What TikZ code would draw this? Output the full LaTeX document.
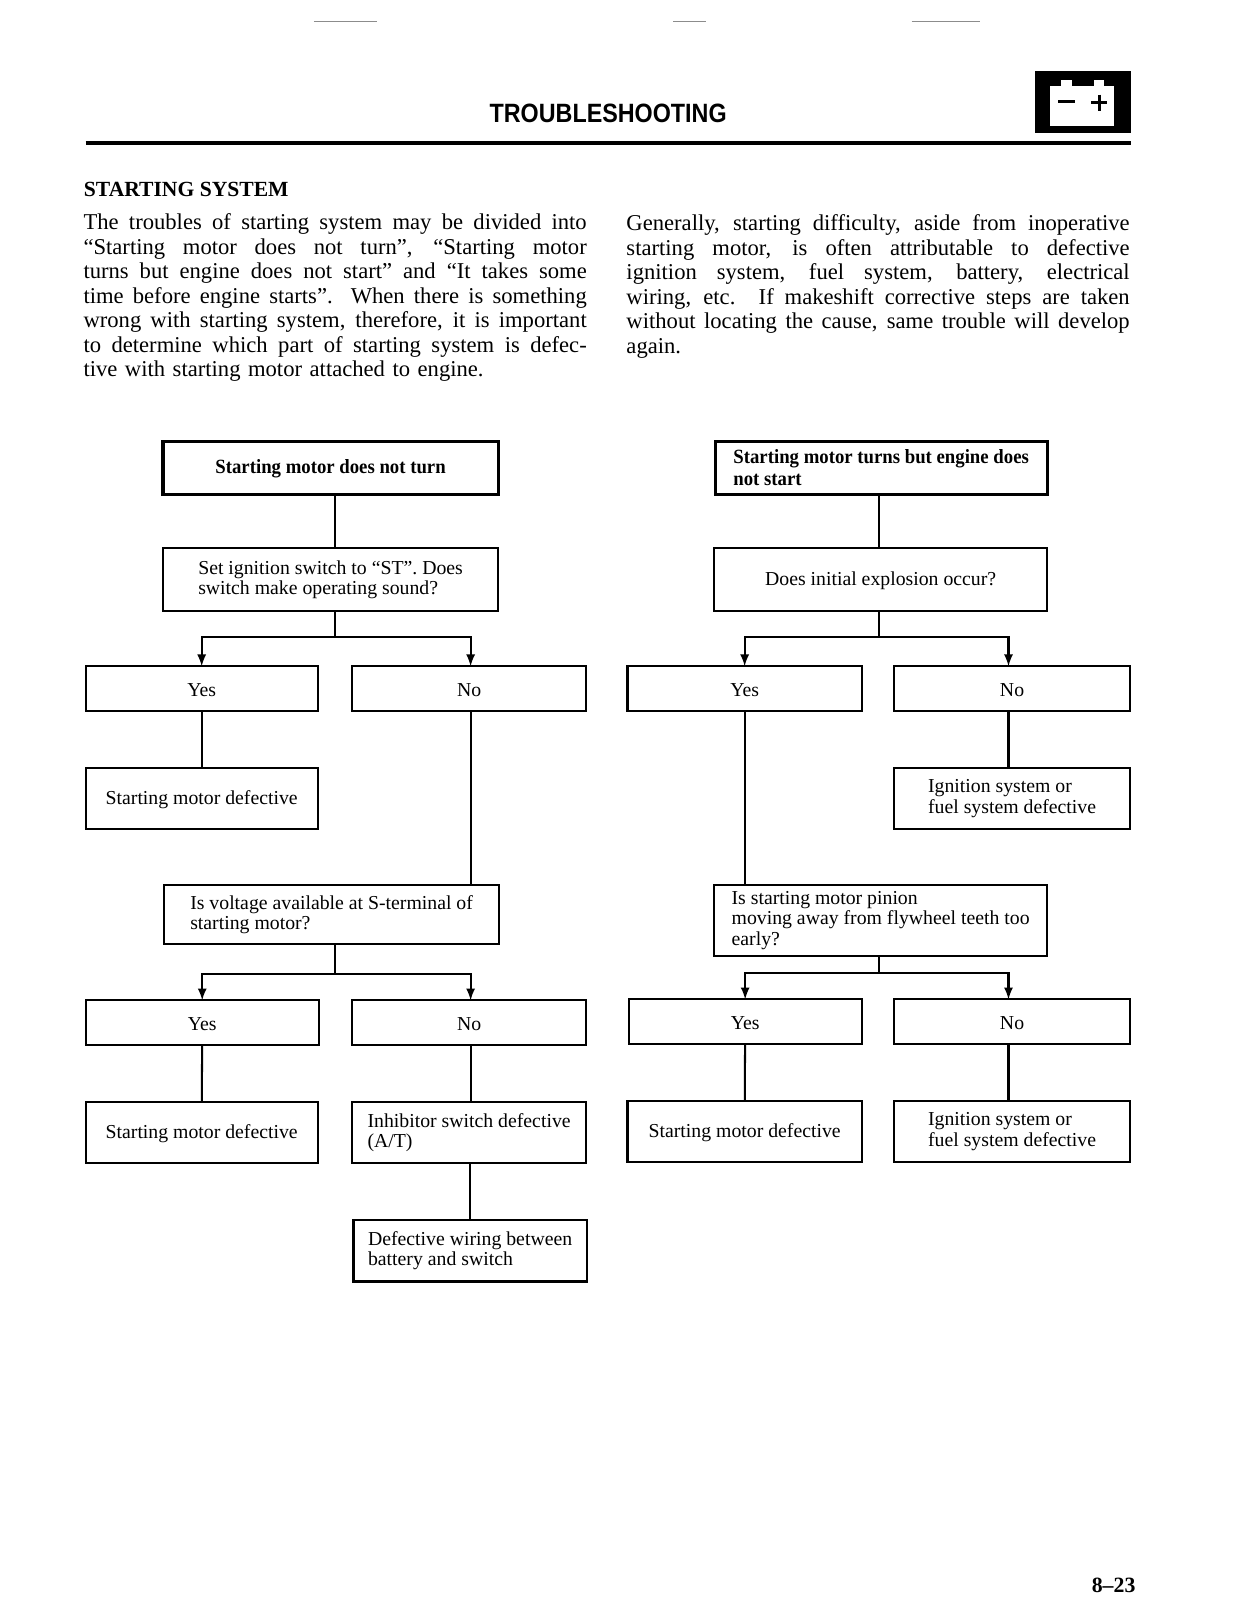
\documentclass[tikz,border=0pt]{standalone}
\usepackage{fontspec}
\setmainfont{Liberation Serif}
\newfontfamily\headfont[FakeStretch=0.88]{Liberation Sans}
\newfontfamily\titlefont[FakeStretch=0.93]{Liberation Serif}
\newcommand{\jl}[1]{\leavevmode\hbox to 247pt{\spaceskip=0pt \xspaceskip=0pt #1}\\}
\tikzset{
    flowbox/.style 2 args={draw,line width=1pt,outer sep=0pt,inner sep=0pt,minimum height={#1*0.5pt},
        minimum width={#2*0.5pt},align=left,font=\fontsize{9.7}{10}\selectfont,
        execute at begin node={\rule{0pt}{8pt}}},
    titlebox/.style={line width=1.5pt,font=\fontsize{9.9}{10.5}\selectfont\titlefont\bfseries},
    para/.style={anchor=north west,inner sep=0pt,outer sep=0pt,text width=250pt,align=left,
        font=\fontsize{11.1}{12}\selectfont},
    link/.style={line width=1pt},
    branch/.style={line width=1pt,-latex},
    scanmark/.style={line width=0.4pt,black!45}
}
\begin{document}
\begin{tikzpicture}[x=0.5pt,y=-0.5pt]
    \useasboundingbox (0,0) rectangle (1213.3,1568.7);
    % page head
    \draw[scanmark] (308,21) -- (370,21);
    \draw[scanmark] (661,21) -- (693,21);
    \draw[scanmark] (895,21) -- (962,21);
    \node[font=\fontsize{13}{15}\selectfont\headfont\bfseries,inner sep=0pt] (head) at (597,111) {TROUBLESHOOTING};
    \draw[line width=2pt] (84,140) -- (1110,140);
    % battery icon
    \fill (1016,70) rectangle (1110,131);
    \fill[white] (1031,84) rectangle (1094,124);
    \fill[white] (1042,79) rectangle (1052,85);
    \fill[white] (1074,79) rectangle (1084,85);
    \draw[line width=1.5pt] (1039,100) -- (1055,100);
    \draw[line width=1.5pt] (1071,101) -- (1087,101);
    \draw[line width=1.5pt] (1079,93) -- (1079,109);
    % text
    \node[anchor=west,inner sep=0pt,font=\fontsize{10.6}{12}\selectfont\bfseries] (section) at (82,186) {STARTING SYSTEM};
    \node[para] (leftpara) at (82,210) {%
        \jl{The troubles of starting system may be divided into}
        \jl{“Starting motor does not turn”, “Starting motor}
        \jl{turns but engine does not start” and “It takes some}
        \jl{time before engine starts”. When there is something}
        \jl{wrong with starting system, therefore, it is important}
        \jl{to determine which part of starting system is defec-}
        tive with starting motor attached to engine.};
    \node[para] (rightpara) at (615,211) {%
        \jl{Generally, starting difficulty, aside from inoperative}
        \jl{starting motor, is often attributable to defective}
        \jl{ignition system, fuel system, battery, electrical}
        \jl{wiring, etc. If makeshift corrective steps are taken}
        \jl{without locating the cause, same trouble will develop}
        again.};
    % left chart
    \node[flowbox={52}{329},titlebox] (notturn) at (324.5,459) {Starting motor does not turn};
    \node[flowbox={62}{329}] (setswitch) at (324.5,569) {Set ignition switch to “ST”. Does\\switch make operating sound?};
    \node[flowbox={44}{228}] (yesa) at (198,676) {Yes};
    \node[flowbox={44}{229}] (noa) at (460.5,676) {No};
    \node[flowbox={60}{228}] (motora) at (198,784) {Starting motor defective};
    \node[flowbox={58}{329}] (voltage) at (325.5,898) {Is voltage available at S-terminal of\\starting motor?};
    \node[flowbox={44}{229}] (yesb) at (198.5,1004) {Yes};
    \node[flowbox={44}{229}] (nob) at (460.5,1004) {No};
    \node[flowbox={60}{228}] (motorb) at (198,1112) {Starting motor defective};
    \node[flowbox={60}{229}] (inhibitor) at (460.5,1112) {Inhibitor switch defective\\(A/T)};
    \node[flowbox={60}{229}] (wiring) at (461.5,1228) {Defective wiring between\\battery and switch};
    \coordinate (joina) at (329,625);
    \coordinate (joinb) at (329,956);
    \draw[link] (notturn.south -| joina) -- (setswitch.north -| joina);
    \draw[link] (setswitch.south -| joina) -- (joina);
    \draw[branch] (joina) -| (yesa.north);
    \draw[branch] (joina) -| ([xshift=.75pt]noa.north);
    \draw[link] (yesa) -- (motora);
    \draw[link] ([xshift=.75pt]noa.south) -- ([xshift=.75pt]noa.south |- voltage.north);
    \draw[link] (voltage.south -| joinb) -- (joinb);
    \draw[branch] (joinb) -| (yesb.north);
    \draw[branch] (joinb) -| ([xshift=.75pt]nob.north);
    \draw[link] (yesb) -- (motorb);
    \draw[link] ([xshift=.75pt]nob.south) -- ([xshift=.75pt]inhibitor.north);
    \draw[link] (inhibitor.south -| wiring.north) -- (wiring.north);
    % right chart
    \node[flowbox={52}{326},titlebox] (nostart) at (865,459) {Starting motor turns but engine does\\not start};
    \node[flowbox={62}{327}] (explosion) at (864.5,569) {Does initial explosion occur?};
    \node[flowbox={44}{230}] (yesc) at (731,676) {Yes};
    \node[flowbox={44}{231}] (noc) at (993.5,676) {No};
    \node[flowbox={60}{231}] (ignitiona) at (993.5,784) {Ignition system or\\fuel system defective};
    \node[flowbox={69}{327}] (pinion) at (864.5,903.5) {Is starting motor pinion\\moving away from flywheel teeth too\\early?};
    \node[flowbox={44}{229}] (yesd) at (731.5,1003) {Yes};
    \node[flowbox={44}{231}] (nod) at (993.5,1003) {No};
    \node[flowbox={60}{230}] (motorc) at (731,1111) {Starting motor defective};
    \node[flowbox={60}{231}] (ignitionb) at (993.5,1111) {Ignition system or\\fuel system defective};
    \coordinate (joinc) at (863,625);
    \coordinate (joind) at (863,955);
    \draw[link] (nostart.south -| joinc) -- (explosion.north -| joinc);
    \draw[link] (explosion.south -| joinc) -- (joinc);
    \draw[branch] (joinc) -| (yesc.north);
    \draw[branch] (joinc) -| ([xshift=-1.75pt]noc.north);
    \draw[link] ([xshift=-1.75pt]noc.south) -- ([xshift=-1.75pt]ignitiona.north);
    \draw[link] (yesc.south) -- (yesc.south |- pinion.north);
    \draw[link] (pinion.south -| joind) -- (joind);
    \draw[branch] (joind) -| (yesd.north);
    \draw[branch] (joind) -| ([xshift=-1.75pt]nod.north);
    \draw[link] (yesd) -- (motorc);
    \draw[link] ([xshift=-1.75pt]nod.south) -- ([xshift=-1.75pt]ignitionb.north);
    % folio
    \node[anchor=east,inner sep=0pt,font=\fontsize{10.7}{11}\selectfont\bfseries] (folio) at (1115,1556) {8–23};
\end{tikzpicture}
\end{document}
